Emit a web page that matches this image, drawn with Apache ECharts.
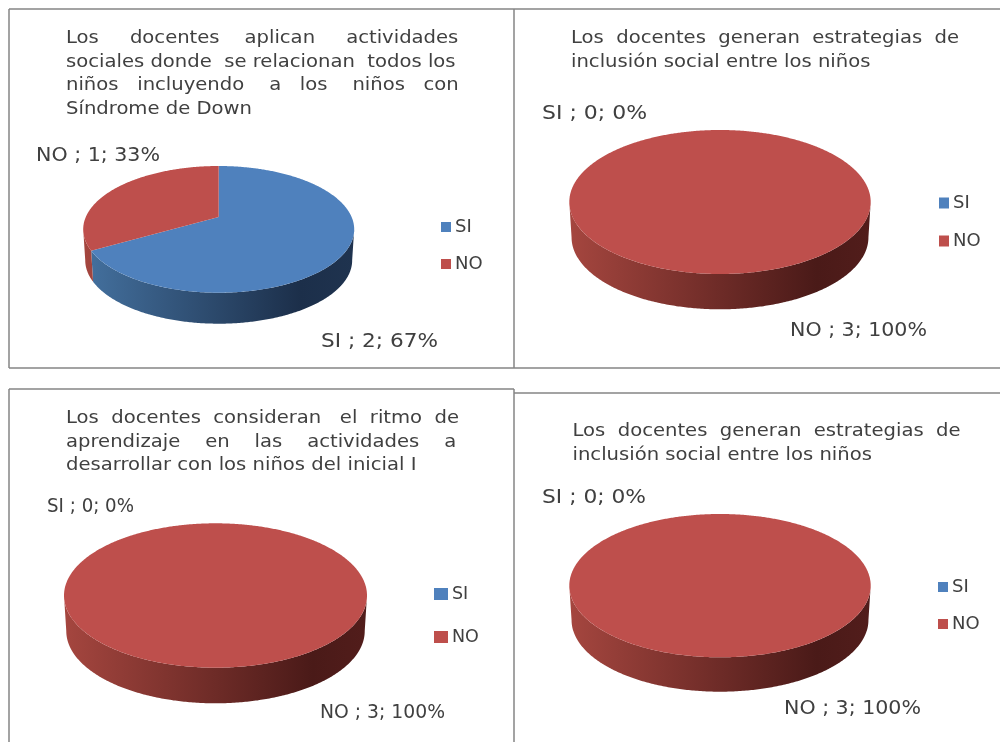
<!DOCTYPE html>
<html><head><meta charset="utf-8">
<style>html,body{margin:0;padding:0;background:#fff}#c{width:1000px;height:742px}</style>
<script src="https://cdn.jsdelivr.net/npm/echarts@6/dist/echarts.min.js"></script>
</head><body><div id="c"></div>
<script>
// ---- data ----
const categories = ['SI', 'NO'];
const siValues = [2, 0, 0, 0];
const noValues = [1, 3, 3, 3];
const titleLines = [
  ['Los docentes aplican actividades', 'sociales donde se relacionan todos los', 'niños incluyendo a los niños con', 'Síndrome de Down'],
  ['Los docentes generan estrategias de', 'inclusión social entre los niños'],
  ['Los docentes consideran el ritmo de', 'aprendizaje en las actividades a', 'desarrollar con los niños del inicial I'],
  ['Los docentes generan estrategias de', 'inclusión social entre los niños']
];
// ---- styling / layout ----
const FONT = '"DejaVu Sans"';
const TXT = '#404040';
const TITLE_SIZE = 17.5, TITLE_STRETCH = 1.12, LABEL_SIZE = 19;
const colors = { SI: '#4f81bd', NO: '#be4f4c' };
const walls = {
  SI: [[0, '#44719f'], [0.8, '#1c2f4a'], [1, '#1f334f']],
  NO: [[0, '#a5463f'], [0.82, '#4a1a18'], [1, '#521d1b']]
};
const P = 0.195; // perspective strength of the tilted disc
const panels = [
  { cx: 218.7, rx: 135.5, top: 166, bottom: 292.7, depth: 31,
    title: { x: 66, y: 27, w: 392.5 },
    labels: { SI: [321, 342, 117], NO: [36, 156, 124] },
    legend: { x: 441, y: 218, size: 18, sw: 10, sh: 10, gap: 19 } },
  { cx: 720, rx: 150.7, top: 130, bottom: 274, depth: 35.3,
    title: { x: 571, y: 27, w: 387 },
    labels: { SI: [542, 114, 105], NO: [790, 331, 137] },
    legend: { x: 939, y: 194, size: 18, sw: 10, sh: 11, gap: 20 } },
  { cx: 215.5, rx: 151.5, top: 523.3, bottom: 667.7, depth: 35.6,
    title: { x: 66, y: 407, w: 392 },
    labels: { SI: [47, 507, 87], NO: [320, 713, 125] },
    legend: { x: 434, y: 585, size: 17.5, sw: 14, sh: 12, gap: 25 } },
  { cx: 720, rx: 150.7, top: 514, bottom: 657.3, depth: 34.4,
    title: { x: 572.5, y: 420, w: 386.5 },
    labels: { SI: [542, 498, 104], NO: [784, 709, 137] },
    legend: { x: 938, y: 578, size: 18, sw: 10, sh: 10, gap: 19 } }
];
const frame = [
  [9, 9, 1000, 9], [9, 9, 9, 368], [9, 368, 1000, 368], [514, 9, 514, 368],
  [9, 389, 514, 389], [9, 389, 9, 742], [514, 389, 514, 742], [514, 393, 1000, 393]
];

const ctx = document.createElement('canvas').getContext('2d');
function textWidth(s, size) { ctx.font = size + 'px ' + FONT; return ctx.measureText(s).width; }
function justify(line, width, size) {
  const words = line.split(' ');
  const sp = textWidth(' ', size);
  const extra = Math.max(0, Math.round((width - textWidth(line, size)) / sp));
  const gaps = words.length - 1;
  let out = words[0], used = 0;
  for (let i = 1; i <= gaps; i++) {
    const target = Math.round(extra * i / gaps);
    out += ' '.repeat(1 + target - used) + words[i];
    used = target;
  }
  return out;
}
function titleText(p, lines) {
  return lines.map((l, i) => i < lines.length - 1 ? justify(l, p.title.w / TITLE_STRETCH, TITLE_SIZE) : l).join('\n');
}

function project(p, theta, lower) {
  const far = (1 - P) / (1 + P);
  const H = p.bottom - p.top;
  const near = H / (1 + far);
  const apexY = p.bottom - near;
  const a = near * (1 - P), b = p.rx * Math.sqrt(1 - P * P);
  const X = Math.sin(theta), Y = -Math.cos(theta), w = 1 - P * Y;
  const k = lower ? 0.985 : 1;
  return [p.cx + k * b * X / w, apexY + a * Y / w + (lower ? p.depth : 0)];
}
function apex(p) {
  const far = (1 - P) / (1 + P);
  return [p.cx, p.bottom - (p.bottom - p.top) / (1 + far)];
}
function arc(p, t0, t1, lower) {
  const n = Math.max(2, Math.ceil((t1 - t0) / 0.01));
  const pts = [];
  for (let i = 0; i <= n; i++) pts.push(project(p, t0 + (t1 - t0) * i / n, lower));
  return pts;
}

function sliceSeries(pi, name, value, startValue, total) {
  const p = panels[pi];
  const gradient = new echarts.graphic.LinearGradient(p.cx - p.rx, 0, p.cx + p.rx, 0,
    walls[name].map(s => ({ offset: s[0], color: s[1] })), true);
  return {
    type: 'custom', name, coordinateSystem: 'none', silent: true, animation: false,
    itemStyle: { color: colors[name] },
    data: [[value, startValue, total]],
    renderItem(params, api) {
      const v = api.value(0), s = api.value(1), t = api.value(2);
      const children = [];
      const t0 = s / t * 2 * Math.PI, t1 = (s + v) / t * 2 * Math.PI;
      if (v > 0) {
        const lo = Math.acos(-P), hi = 2 * Math.PI - lo;
        const w0 = Math.max(t0, lo), w1 = Math.min(t1, hi);
        if (w1 > w0) {
          children.push({ type: 'polygon',
            shape: { points: arc(p, w0, w1, false).concat(arc(p, w0, w1, true).reverse()) },
            style: { fill: gradient } });
        }
        const rim = arc(p, t0, t1, false);
        children.push({ type: 'polygon', z2: 2,
          shape: { points: v === t ? rim : [apex(p)].concat(rim) },
          style: { fill: colors[name] } });
      }
      const lab = p.labels[name];
      const text = name + ' ; ' + v + '; ' + Math.round(v / t * 100) + '%';
      children.push({ type: 'text', x: lab[0], y: lab[1], z2: 5,
        scaleX: lab[2] / textWidth(text, LABEL_SIZE),
        style: { text, fill: TXT, fontFamily: FONT, fontSize: LABEL_SIZE, textAlign: 'left', verticalAlign: 'middle' } });
      return { type: 'group', children };
    }
  };
}

const series = [];
panels.forEach((p, i) => {
  const total = siValues[i] + noValues[i];
  series.push(sliceSeries(i, categories[0], siValues[i], 0, total));
  series.push(sliceSeries(i, categories[1], noValues[i], siValues[i], total));
});

const option = {
  backgroundColor: '#fff',
  animation: false,
  legend: panels.map(p => ({
    orient: 'vertical', left: p.legend.x, top: p.legend.y, padding: 0, selectedMode: false,
    icon: 'rect', itemWidth: p.legend.sw, itemHeight: p.legend.sh, itemGap: p.legend.gap,
    textStyle: { fontFamily: FONT, fontSize: p.legend.size, color: TXT, padding: [0, 0, 0, -1] },
    data: categories.map(n => ({ name: n, itemStyle: { color: colors[n] } }))
  })),
  graphic: frame.map(f => ({ type: 'line', silent: true,
    shape: { x1: f[0], y1: f[1], x2: f[2], y2: f[3] },
    style: { stroke: '#858585', lineWidth: 1.5 } })).concat(panels.map((p, i) => ({
      type: 'text', silent: true, x: p.title.x, y: p.title.y, scaleX: TITLE_STRETCH,
      style: { text: titleText(p, titleLines[i]), fill: TXT, fontFamily: FONT, fontSize: TITLE_SIZE,
        lineHeight: 23.5, textAlign: 'left', verticalAlign: 'top' }
    }))),
  series
};
echarts.init(document.getElementById('c')).setOption(option);
</script></body></html>
